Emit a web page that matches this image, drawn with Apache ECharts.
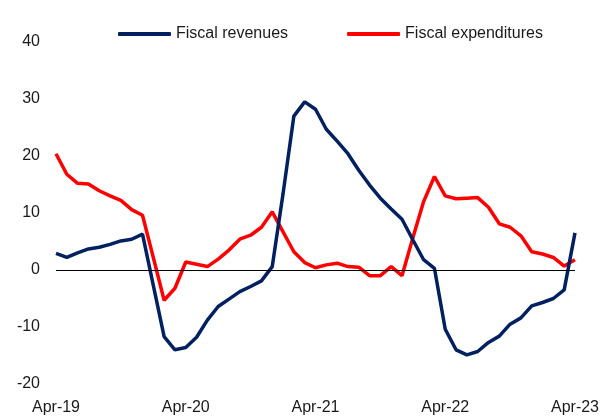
<!DOCTYPE html>
<html>
<head>
<meta charset="utf-8">
<script src="https://cdn.jsdelivr.net/npm/echarts@6/dist/echarts.min.js"></script>
<style>
  html, body { margin: 0; padding: 0; background: #fff; }
  #chart { width: 602px; height: 420px; }
</style>
</head>
<body>
<div id="chart"></div>
<script>
// monthly, Apr-19 .. Apr-23
const months = ['Jan', 'Feb', 'Mar', 'Apr', 'May', 'Jun', 'Jul', 'Aug', 'Sep', 'Oct', 'Nov', 'Dec']
const categories = []
for (let y = 19; y <= 23; y++) {
  for (let m = 0; m < 12; m++) {
    if ((y === 19 && m < 3) || (y === 23 && m > 3)) continue
    categories.push(months[m] + '-' + y)
  }
}

const fiscalRevenues = [
  2.9, 2.2, 3.0, 3.7, 4.0, 4.5, 5.1, 5.4, 6.3, -2.7,
  -11.7, -14.0, -13.6, -11.8, -8.8, -6.4, -5.1, -3.8, -2.9, -1.9,
  0.6, 13.4, 27.0, 29.5, 28.2, 24.7, 22.6, 20.4, 17.5, 14.9,
  12.6, 10.7, 8.9, 5.3, 1.8, 0.3, -10.4, -14.0, -14.9, -14.3,
  -12.7, -11.6, -9.5, -8.4, -6.3, -5.7, -5.0, -3.5, 6.5
]

const fiscalExpenditures = [
  20.4, 16.8, 15.2, 15.1, 13.9, 13.0, 12.2, 10.6, 9.6, 2.2,
  -5.3, -3.2, 1.4, 1.0, 0.6, 1.9, 3.5, 5.4, 6.1, 7.5,
  10.2, 6.7, 3.2, 1.3, 0.4, 0.9, 1.2, 0.6, 0.5, -1.0,
  -1.0, 0.6, -1.0, 5.6, 12.0, 16.4, 13.0, 12.5, 12.6, 12.7,
  11.0, 8.1, 7.5, 6.0, 3.2, 2.8, 2.2, 0.7, 1.8
]

const font = 'Liberation Sans'
const chart = echarts.init(document.getElementById('chart'))

chart.setOption({
  animation: false,
  textStyle: { fontFamily: font },
  legend: {
    top: 21,
    left: 113,
    itemWidth: 53,
    itemHeight: 4,
    itemGap: 59,
    icon: 'roundRect',
    textStyle: { fontFamily: font, fontSize: 16, color: '#1a1a1a' },
    data: ['Fiscal revenues', 'Fiscal expenditures']
  },
  grid: { left: 56, right: 26, top: 42, bottom: 36 },
  xAxis: {
    type: 'category',
    data: categories,
    boundaryGap: false,
    axisLine: { show: false },
    axisTick: { show: false },
    axisLabel: {
      interval: 11,
      margin: 16,
      fontSize: 16,
      color: '#1a1a1a',
      fontFamily: font,
      showMaxLabel: true
    }
  },
  yAxis: {
    type: 'value',
    min: -20,
    max: 40,
    interval: 10,
    splitLine: { show: false },
    axisLine: { show: false },
    axisTick: { show: false },
    axisLabel: { margin: 16, fontSize: 16, color: '#1a1a1a', fontFamily: font }
  },
  series: [
    {
      name: 'Fiscal revenues',
      type: 'line',
      data: fiscalRevenues,
      symbol: 'none',
      color: '#002060',
      lineStyle: { width: 3.5, color: '#002060' },
      markLine: {
        silent: true,
        symbol: 'none',
        label: { show: false },
        lineStyle: { color: '#000', width: 1, type: 'solid' },
        data: [{ yAxis: 0 }]
      },
      z: 3
    },
    {
      name: 'Fiscal expenditures',
      type: 'line',
      data: fiscalExpenditures,
      symbol: 'none',
      color: '#ff0000',
      lineStyle: { width: 3.5, color: '#ff0000' },
      z: 2
    }
  ]
})
</script>
</body>
</html>
